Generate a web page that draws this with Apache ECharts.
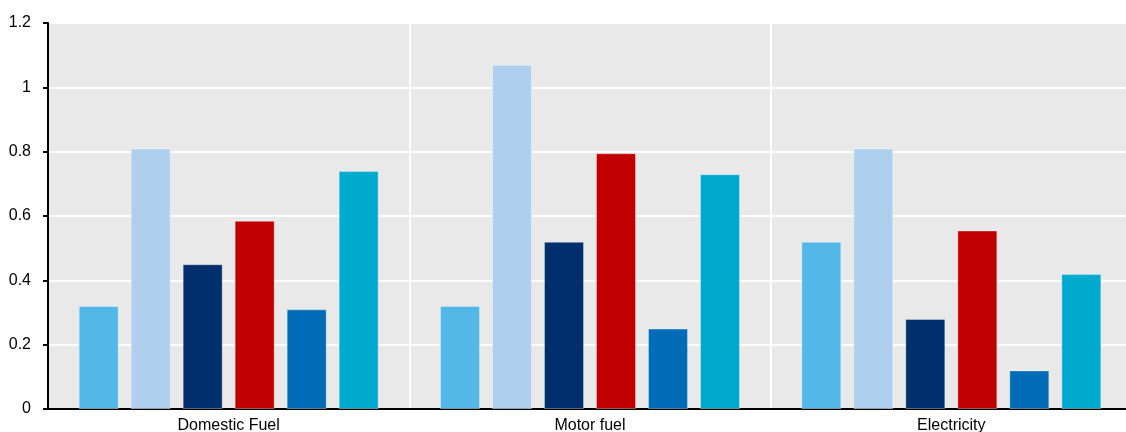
<!DOCTYPE html>
<html><head><meta charset="utf-8">
<script src="https://cdn.jsdelivr.net/npm/echarts@6/dist/echarts.min.js"></script>
<style>html,body{margin:0;padding:0;background:#fff}#c{width:1126px;height:432px}</style>
</head><body><div id="c"></div>
<script>
const categories = ['Domestic Fuel', 'Motor fuel', 'Electricity'];
const series1 = [0.32, 0.32, 0.52];
const series2 = [0.81, 1.07, 0.81];
const series3 = [0.45, 0.52, 0.28];
const series4 = [0.585, 0.795, 0.555];
const series5 = [0.31, 0.25, 0.12];
const series6 = [0.74, 0.73, 0.42];
const yTicks = [0, 0.2, 0.4, 0.6, 0.8, 1, 1.2];

const colors = ['#53B7E8', '#AECFEE', '#002F6C', '#C00000', '#006BB6', '#00AACC'];
const allSeries = [series1, series2, series3, series4, series5, series6];

const chart = echarts.init(document.getElementById('c'));
chart.setOption({
  animation: false,
  grid: { left: 48, top: 23, right: -6, bottom: 23, outerBoundsMode: 'none', containLabel: false,
          backgroundColor: '#E9E9E9', show: true, borderWidth: 0 },
  xAxis: {
    type: 'category', data: categories,
    axisLine: { lineStyle: { color: '#000', width: 2 } },
    axisTick: { show: false },
    axisLabel: { color: '#000', fontFamily: 'Liberation Sans, Arial', fontSize: 16, margin: 9 },
    splitLine: { show: true, lineStyle: { color: '#fff', width: 2 } }
  },
  yAxis: {
    type: 'value', min: yTicks[0], max: yTicks[yTicks.length - 1], interval: 0.2,
    axisLine: { show: true, lineStyle: { color: '#000', width: 2 } },
    axisTick: { show: true, length: 5, lineStyle: { color: '#000', width: 2 } },
    axisLabel: { color: '#000', fontFamily: 'Liberation Sans, Arial', fontSize: 16, margin: 17 },
    splitLine: { lineStyle: { color: '#fff', width: 2 } }
  },
  series: allSeries.map((d, i) => ({
    type: 'bar', data: d, barWidth: 40, barGap: '30%',
    itemStyle: { color: colors[i], borderColor: 'rgba(255,255,255,0.35)', borderWidth: 1 }
  }))
});
</script></body></html>
